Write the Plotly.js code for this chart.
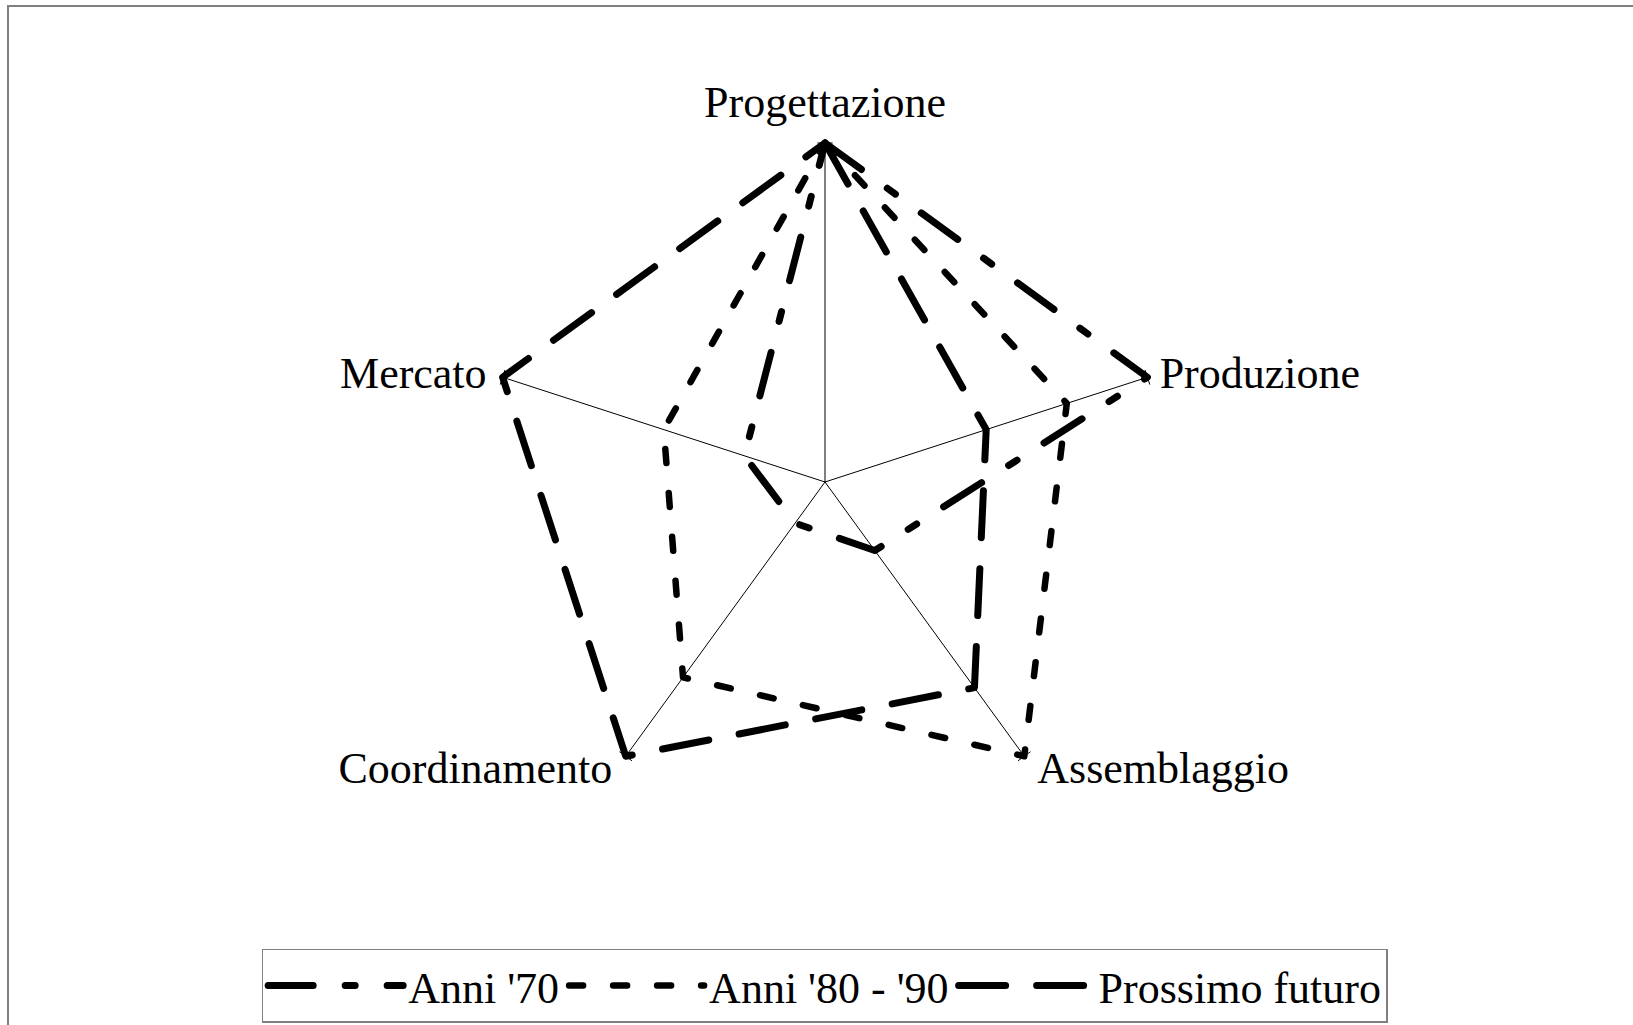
<!DOCTYPE html>
<html>
<head>
<meta charset="utf-8">
<script src="https://cdn.plot.ly/plotly-3.0.1.min.js"></script>
<style>
  html, body { margin: 0; padding: 0; background: #fff; }
  #chart { width: 1633px; height: 1025px; }
  path.js-line, .legendlines path { stroke-linecap: round; stroke-linejoin: round; }
</style>
</head>
<body>
<div id="chart"></div>
<script>
// Categories (clockwise from top)
const categories = ['Progettazione', 'Produzione', 'Assemblaggio', 'Coordinamento', 'Mercato'];
// Series values (scale 0-4)
const seriesNames = ["Anni '70", "Anni '80 - '90", 'Prossimo futuro'];
const anni70 = [4, 4, 1, 0.6, 1];
const anni8090 = [4, 3, 4, 2.85, 2];
const prossimoFuturo = [4, 2, 3, 4, 4];
const axisMax = 4;

function closed(arr) { return arr.concat([arr[0]]); }

const traces = [];

// spokes (one per category, from centre to axis maximum)
const spokeR = [], spokeTheta = [];
categories.forEach(c => { spokeR.push(0, axisMax, null); spokeTheta.push(c, c, null); });
traces.push({
  type: 'scatterpolar', mode: 'lines', showlegend: false,
  r: spokeR, theta: spokeTheta, connectgaps: false,
  line: { color: '#000000', width: 1 }, hoverinfo: 'skip'
});
// small cross ticks at the spoke ends
traces.push({
  type: 'scatterpolar', mode: 'markers', showlegend: false,
  r: categories.map(() => axisMax), theta: categories,
  cliponaxis: false,
  marker: { symbol: 'line-ew-open', size: 11, color: '#000000',
            line: { color: '#000000', width: 1 },
            angle: categories.map((c, i) => i * 360 / categories.length) },
  hoverinfo: 'skip'
});

const styles = [
  { width: 7, dash: '45px,32px,10px,32px' },
  { width: 6.5, dash: '14px,30px' },
  { width: 7, dash: '47px,31px' }
];
const values = [anni70, anni8090, prossimoFuturo];

values.forEach((v, i) => traces.push({
  type: 'scatterpolar',
  mode: 'lines',
  name: seriesNames[i],
  r: closed(v),
  theta: closed(categories),
  cliponaxis: false,
  line: { color: '#000000', width: styles[i].width, dash: styles[i].dash },
  hoverinfo: 'skip'
}));

// category labels at the end of each spoke
const labelPositions = ['top center', 'middle right', 'middle right', 'middle left', 'middle left'];
const labelOffsets = [23, 18, 1, 2, 24];
const labelRadius = [axisMax, axisMax, axisMax * 1.057, axisMax * 1.057, axisMax];
traces.push({
  type: 'scatterpolar',
  mode: 'markers+text',
  showlegend: false,
  r: labelRadius,
  theta: categories,
  text: categories,
  textposition: labelPositions,
  cliponaxis: false,
  marker: { size: labelOffsets, color: 'rgba(0,0,0,0)', opacity: 0 },
  textfont: { family: '"Liberation Serif", "Times New Roman", serif', size: 44, color: '#000000' },
  hoverinfo: 'skip'
});

const W = 1633, H = 1025;
const cx = 825, cy = 482, R0 = 339;
const rangeMax = axisMax * 1.1;
const R = R0 * rangeMax / axisMax;

const layout = {
  width: W, height: H,
  margin: { l: 0, r: 0, t: 0, b: 0 },
  paper_bgcolor: '#ffffff',
  plot_bgcolor: '#ffffff',
  font: { family: '"Liberation Serif", "Times New Roman", serif', color: '#000000', size: 44 },
  showlegend: true,
  legend: {
    orientation: 'h',
    x: 0.505, xanchor: 'center',
    y: 0.002, yanchor: 'bottom',
    bordercolor: '#808080', borderwidth: 1.5,
    bgcolor: '#ffffff',
    font: { family: '"Liberation Serif", "Times New Roman", serif', size: 44, color: '#000000' },
    itemwidth: 135,
    tracegroupgap: 0
  },
  polar: {
    domain: {
      x: [(cx - R) / W, (cx + R) / W],
      y: [(H - cy - R) / H, (H - cy + R) / H]
    },
    bgcolor: 'rgba(0,0,0,0)',
    gridshape: 'linear',
    radialaxis: {
      visible: false,
      range: [0, rangeMax],
      showgrid: false
    },
    angularaxis: {
      rotation: 90,
      direction: 'clockwise',
      showline: false,
      showgrid: false,
      ticks: '',
      showticklabels: false
    }
  },
  shapes: [{
    type: 'rect', xref: 'paper', yref: 'paper',
    x0: 8 / W, x1: 1.02, y0: -0.02, y1: 1 - 6 / H,
    line: { color: '#808080', width: 2 },
    fillcolor: 'rgba(0,0,0,0)',
    layer: 'below'
  }]
};

Plotly.newPlot('chart', traces, layout, { staticPlot: true, displayModeBar: false });
</script>
</body>
</html>
